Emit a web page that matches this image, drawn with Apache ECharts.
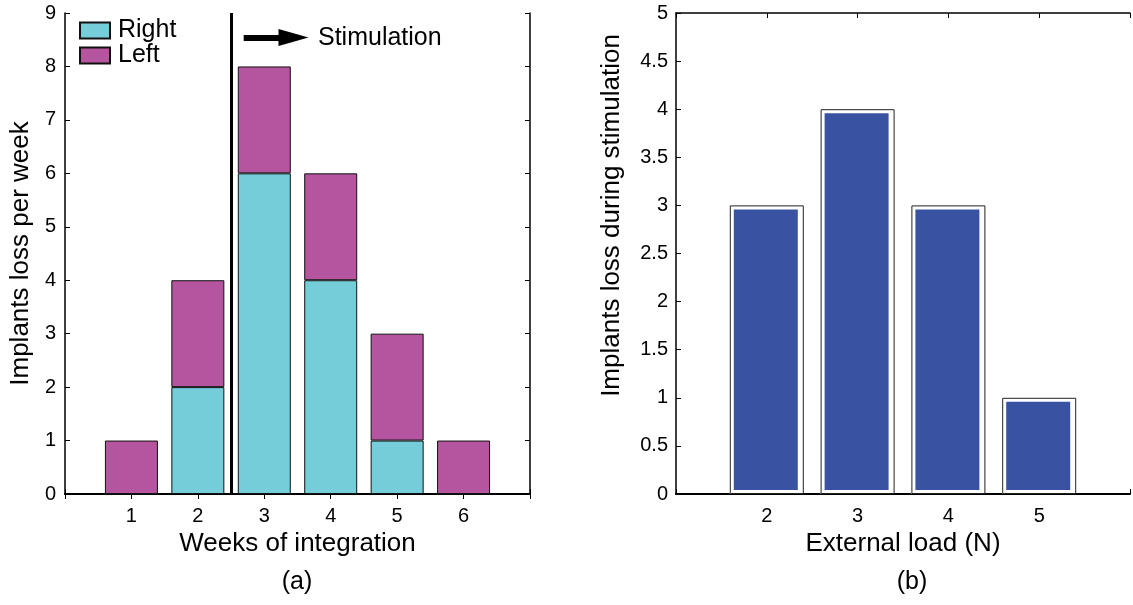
<!DOCTYPE html>
<html>
<head>
<meta charset="utf-8">
<script src="https://cdn.jsdelivr.net/npm/echarts@6/dist/echarts.min.js"></script>
<style>
html,body{margin:0;padding:0;background:#fff;}
#c{width:1133px;height:605px;}
</style>
</head>
<body>
<div id="c"></div>
<script>
// ---- data ----
var weekTicks = ['1', '2', '3', '4', '5', '6'];   // weeks of integration
var rightLoss = [0, 2, 6, 4, 1, 0];               // implants lost, right side
var leftLoss = [1, 2, 2, 2, 2, 1];                // implants lost, left side
var loads = [2, 3, 4, 5];                         // external load (N)
var stimLoss = [3, 4, 3, 1];                      // implants lost during stimulation
var loadTicks = ['2', '3', '4', '5'];

var FONT = '"Liberation Sans", Arial, Helvetica, sans-serif';
var cyan = '#74CDD8', magenta = '#B5549F', blue = '#3A52A2';

// category axis padded with one empty slot on each side (axis spans 0..7)
var weekCats = [''].concat(weekTicks).concat(['']);
function pad(arr) { return ['-'].concat(arr).concat(['-']); }
function pairs(xs, ys) { return xs.map(function (x, i) { return [x, ys[i]]; }); }

var chart = echarts.init(document.getElementById('c'), null, {renderer: 'canvas'});

var axisLine = {show: true, lineStyle: {color: '#000', width: 1.5}};
var tickIn = {show: true, inside: true, length: 5, lineStyle: {color: '#000', width: 1}};
var nameStyle = {color: '#000', fontSize: 26, fontFamily: FONT};
function lbl(margin, extra) {
  var o = {color: '#000', fontSize: 20, fontFamily: FONT, margin: margin};
  for (var k in extra) o[k] = extra[k];
  return o;
}

var option = {
  animation: false,
  backgroundColor: '#fff',
  textStyle: {fontFamily: FONT},
  grid: [
    {left: 65, right: 603, top: 13, bottom: 111},
    {left: 676, right: -2, top: 13, bottom: 111}
  ],
  legend: {
    data: ['Right', 'Left'],
    orient: 'vertical',
    left: 79, top: 18, padding: 0,
    itemWidth: 30, itemHeight: 16, itemGap: 0,
    icon: 'rect',
    textStyle: {color: '#000', fontSize: 25, fontFamily: FONT, lineHeight: 25, padding: [0, 0, 0, 3]}
  },
  xAxis: [
    {gridIndex: 0, type: 'category', data: weekCats, boundaryGap: false, position: 'bottom',
      name: 'Weeks of integration', nameLocation: 'middle', nameGap: 36, nameTextStyle: nameStyle,
      axisLine: {show: true, lineStyle: {color: '#000', width: 2}}, axisTick: tickIn, splitLine: {show: false},
      axisLabel: lbl(12, {interval: 0})},
    {gridIndex: 0, type: 'category', data: weekCats, boundaryGap: false, position: 'top',
      axisLine: axisLine, axisTick: tickIn, axisLabel: {show: false}, splitLine: {show: false}},
    {gridIndex: 1, type: 'value', min: 1, max: 6, interval: 1, position: 'bottom',
      name: 'External load (N)', nameLocation: 'middle', nameGap: 36, nameTextStyle: nameStyle,
      axisLine: {show: true, lineStyle: {color: '#000', width: 2}}, axisTick: tickIn, splitLine: {show: false},
      axisLabel: lbl(12, {formatter: function (v) { var i = loads.indexOf(v); return i >= 0 ? loadTicks[i] : ''; }})},
    {gridIndex: 1, type: 'value', min: 1, max: 6, interval: 1, position: 'top',
      axisLine: axisLine, axisTick: tickIn, axisLabel: {show: false}, splitLine: {show: false}},
    // hidden linear axis over the left panel, used for the annotations
    {gridIndex: 0, type: 'value', min: 0, max: 7, show: false}
  ],
  yAxis: [
    {gridIndex: 0, type: 'value', min: 0, max: 9, interval: 1, position: 'left',
      name: 'Implants loss per week', nameLocation: 'middle', nameGap: 31, nameTextStyle: nameStyle,
      axisLine: axisLine, axisTick: tickIn, splitLine: {show: false},
      axisLabel: lbl(9)},
    {gridIndex: 0, type: 'value', min: 0, max: 9, interval: 1, position: 'right',
      axisLine: axisLine, axisTick: tickIn, axisLabel: {show: false}, splitLine: {show: false}},
    {gridIndex: 1, type: 'value', min: 0, max: 5, interval: 0.5, position: 'left',
      name: 'Implants loss during stimulation', nameLocation: 'middle', nameGap: 51,
      nameTextStyle: {color: '#000', fontSize: 26, fontFamily: FONT, padding: [0, 0, 0, 76]},
      axisLine: axisLine, axisTick: tickIn, splitLine: {show: false},
      axisLabel: lbl(8)}
  ],
  series: [
    {name: 'Right', type: 'bar', xAxisIndex: 0, yAxisIndex: 0, stack: 'a', barWidth: 53,
      data: pad(rightLoss),
      itemStyle: {color: cyan, borderColor: '#111', borderWidth: 1}},
    {name: 'Left', type: 'bar', xAxisIndex: 0, yAxisIndex: 0, stack: 'a', barWidth: 53,
      data: pad(leftLoss),
      itemStyle: {color: magenta, borderColor: '#111', borderWidth: 1}},
    {name: 'annot', type: 'line', xAxisIndex: 4, yAxisIndex: 0, data: [], silent: true, z: 5,
      markLine: {
        silent: true, animation: false,
        label: {show: false},
        lineStyle: {color: '#000', width: 3, type: 'solid'},
        data: [
          [{coord: [2.5, 0], symbol: 'none'},
           {coord: [2.5, 9], symbol: 'none', lineStyle: {color: '#000', width: 3, type: 'solid'}}],
          [{coord: [2.69, 8.54], symbol: 'none'},
           {coord: [3.44, 8.54], symbol: 'triangle', symbolSize: [17, 30], symbolRotate: -90,
            itemStyle: {color: '#000'}, lineStyle: {color: '#000', width: 6, type: 'solid'}}]
        ]
      }},
    {name: 'stimFill', type: 'bar', xAxisIndex: 2, yAxisIndex: 2, barWidth: 72, barGap: '-100%', z: 2,
      data: pairs(loads, stimLoss),
      itemStyle: {color: blue, borderColor: '#fff', borderWidth: 4}},
    {name: 'stimEdge', type: 'bar', xAxisIndex: 2, yAxisIndex: 2, barWidth: 74, barGap: '-100%', z: 3,
      data: pairs(loads, stimLoss),
      itemStyle: {color: 'rgba(0,0,0,0)', borderColor: '#222', borderWidth: 1}}
  ],
  graphic: [
    {type: 'text', x: 318, y: 38, style: {text: 'Stimulation', fill: '#000', font: '25px ' + FONT, textVerticalAlign: 'middle'}},
    {type: 'text', x: 297, y: 582, style: {text: '(a)', fill: '#000', font: '25px ' + FONT, textAlign: 'center', textVerticalAlign: 'middle'}},
    {type: 'text', x: 912, y: 582, style: {text: '(b)', fill: '#000', font: '25px ' + FONT, textAlign: 'center', textVerticalAlign: 'middle'}}
  ]
};
chart.setOption(option);
</script>
</body>
</html>
